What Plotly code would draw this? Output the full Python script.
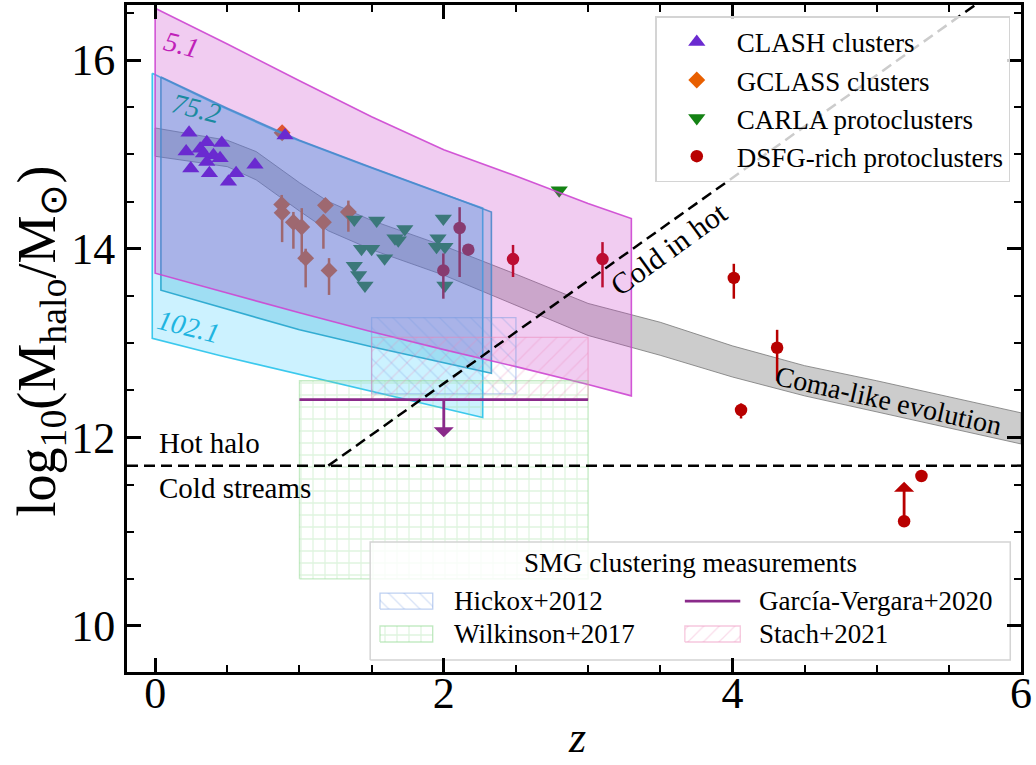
import plotly.graph_objects as go

FONT = "Liberation Serif"

# ---------------- cluster / protocluster samples ----------------
clash_z = [0.235, 0.215, 0.247, 0.312, 0.358, 0.462, 0.404, 0.45, 0.358, 0.376, 0.508, 0.561, 0.692, 0.335, 0.90]
clash_m = [15.23, 15.03, 14.85, 15.06, 15.13, 15.12, 14.99, 14.96, 14.92, 14.80, 14.71, 14.80, 14.89, 15.01, 15.20]

gclass_z = [0.88, 0.877, 0.88, 0.958, 1.016, 1.18, 1.166, 1.339, 1.043, 1.205]
gclass_m = [15.23, 14.47, 14.38, 14.28, 14.23, 14.46, 14.28, 14.39, 13.90, 13.77]
gclass_up = [0.0, 0.10, 0.08, 0.11, 0.20, 0.05, 0.08, 0.12, 0.10, 0.13]
gclass_lo = [0.0, 0.10, 0.31, 0.28, 0.37, 0.05, 0.28, 0.21, 0.31, 0.26]

carla_z = [1.38, 1.535, 1.73, 1.662, 1.685, 1.43, 1.50, 1.59, 1.38, 1.41, 1.454,
           1.997, 1.96, 2.008, 1.95, 2.008, 2.80]
carla_m = [14.31, 14.30, 14.21, 14.11, 14.09, 14.00, 14.00, 13.90, 13.82, 13.72, 13.61,
           14.32, 14.11, 14.02, 14.02, 13.61, 14.62]

dsfg_z = [2.11, 2.17, 1.997, 2.48, 3.10, 4.01, 4.31, 4.06, 5.31, 5.19]
dsfg_m = [14.22, 13.99, 13.77, 13.89, 13.89, 13.69, 12.95, 12.29, 11.59, 11.11]
dsfg_up = [0.22, 0.0, 0.18, 0.15, 0.18, 0.15, 0.19, 0.07, 0.0, 0.0]
dsfg_lo = [0.52, 0.0, 0.30, 0.19, 0.30, 0.22, 0.35, 0.09, 0.0, 0.0]
# lower limit on one DSFG-rich protocluster
dsfg_lowlim_z = 5.19
dsfg_lowlim_m = 11.11
dsfg_lowlim_len = 0.42

# ---------------- progenitor tracks ----------------
band51_z = [0.0, 0.5, 1.0, 1.5, 2.0, 2.5, 3.0, 3.3]
band51_hi = [16.55, 16.17, 15.78, 15.40, 15.05, 14.77, 14.48, 14.32]
band51_lo = [13.74, 13.53, 13.32, 13.12, 12.93, 12.75, 12.56, 12.44]

band752_z = [0.04, 0.5, 1.0, 1.5, 2.0, 2.33]
band752_hi = [15.82, 15.49, 15.15, 14.86, 14.58, 14.39]
band752_lo = [13.56, 13.36, 13.14, 12.96, 12.79, 12.68]

band1021_z = [-0.02, 0.44, 0.94, 1.44, 1.94, 2.27]
band1021_hi = [15.86, 15.52, 15.18, 14.89, 14.61, 14.43]
band1021_lo = [13.05, 12.87, 12.69, 12.51, 12.33, 12.21]

coma_z = [0.0, 0.5, 0.7, 1.0, 1.2, 1.5, 2.0, 2.5, 3.0, 3.5, 4.0, 4.5, 5.0, 5.5, 6.0]
coma_hi = [15.28, 15.15, 15.03, 14.70, 14.50, 14.30, 14.03, 13.73, 13.42, 13.22, 12.97, 12.76, 12.60, 12.43, 12.26]
coma_lo = [14.98, 14.87, 14.73, 14.40, 14.19, 13.99, 13.72, 13.40, 13.08, 12.87, 12.64, 12.44, 12.27, 12.10, 11.93]

# ---------------- SMG clustering measurements ----------------
hickox_z = [1.5, 2.5]
hickox_m = [12.46, 13.27]
wilkinson_z = [1.0, 3.0]
wilkinson_m = [10.50, 12.60]
stach_z = [1.5, 3.0]
stach_m = [12.40, 13.06]
gv_z = [1.0, 3.0]
gv_m = 12.40
gv_arrow_z = 2.0
gv_arrow_len = 0.40

# ---------------- hot / cold accretion boundaries ----------------
hot_cold_m = 11.7
cold_in_hot_z = [1.2, 6.0]
cold_in_hot_m = [11.7, 16.93]

X_RANGE = [-0.195, 6.0]
Y_RANGE = [9.512, 16.584]

# styles
HICKOX = dict(shape="\\", fg="rgba(110,150,225,0.55)", edge="rgba(110,150,225,0.45)", size=11, sol=0.12)
WILK = dict(shape="+", fg="rgba(140,215,140,0.55)", edge="rgba(140,215,140,0.5)", size=12, sol=0.2)
STACH = dict(shape="/", fg="rgba(235,130,180,0.55)", edge="rgba(235,130,180,0.45)", size=11, sol=0.12)
GV_COLOR = "#8a2a8a"
DSFG_COLOR = "#b80000"


def band_outline(z, hi, lo):
    xs = list(z) + list(z)[::-1] + [z[0]]
    ys = list(hi) + list(lo)[::-1] + [hi[0]]
    return xs, ys


def box_outline(z, m):
    return [z[0], z[1], z[1], z[0], z[0]], [m[0], m[0], m[1], m[1], m[0]]


def hatched(x, y, st, xaxis="x", yaxis="y"):
    return go.Scatter(x=x, y=y, mode="lines", fill="toself", fillcolor="rgba(0,0,0,0)",
                      fillpattern=dict(shape=st["shape"], fgcolor=st["fg"], bgcolor="rgba(0,0,0,0)",
                                       size=st["size"], solidity=st["sol"]),
                      line=dict(color=st["edge"], width=1.3),
                      xaxis=xaxis, yaxis=yaxis, showlegend=False, hoverinfo="skip")


fig = go.Figure()

# Coma-like evolution (underneath the markers)
cx, cy = band_outline(coma_z, coma_hi, coma_lo)
fig.add_trace(go.Scatter(x=cx, y=cy, mode="lines", fill="toself",
                         fillcolor="rgba(128,128,128,0.40)",
                         line=dict(color="rgba(120,120,120,0.8)", width=1),
                         showlegend=False, hoverinfo="skip"))

# markers that sit below the progenitor tracks
fig.add_trace(go.Scatter(
    x=gclass_z, y=gclass_m, mode="markers", name="GCLASS clusters",
    marker=dict(symbol="diamond", size=13, color="#e85f00", line=dict(width=0)),
    error_y=dict(type="data", symmetric=False, array=gclass_up, arrayminus=gclass_lo,
                 color="#e85f00", thickness=2.5, width=0),
    legendrank=2))
fig.add_trace(go.Scatter(
    x=carla_z, y=carla_m, mode="markers", name="CARLA protoclusters",
    marker=dict(symbol="triangle-down", size=15, color="#148214", line=dict(width=0)),
    legendrank=3))
fig.add_trace(go.Scatter(
    x=dsfg_z, y=dsfg_m, mode="markers", name="DSFG-rich protoclusters",
    marker=dict(symbol="circle", size=12.5, color=DSFG_COLOR, line=dict(width=0)),
    error_y=dict(type="data", symmetric=False, array=dsfg_up, arrayminus=dsfg_lo,
                 color=DSFG_COLOR, thickness=2.5, width=0),
    legendrank=4))

# progenitor tracks
bx, by = band_outline(band1021_z, band1021_hi, band1021_lo)
fig.add_trace(go.Scatter(x=bx, y=by, mode="lines", fill="toself",
                         fillcolor="rgba(0,191,255,0.20)",
                         line=dict(color="rgba(40,195,235,0.9)", width=1.6),
                         showlegend=False, hoverinfo="skip"))
bx, by = band_outline(band752_z, band752_hi, band752_lo)
fig.add_trace(go.Scatter(x=bx, y=by, mode="lines", fill="toself",
                         fillcolor="rgba(0,150,200,0.22)",
                         line=dict(color="rgba(35,165,205,0.9)", width=1.6),
                         showlegend=False, hoverinfo="skip"))
bx, by = band_outline(band51_z, band51_hi, band51_lo)
fig.add_trace(go.Scatter(x=bx, y=by, mode="lines", fill="toself",
                         fillcolor="rgba(200,50,200,0.25)",
                         line=dict(color="rgba(205,70,210,0.9)", width=1.6),
                         showlegend=False, hoverinfo="skip"))

# CLASH on top
fig.add_trace(go.Scatter(
    x=clash_z, y=clash_m, mode="markers", name="CLASH clusters",
    marker=dict(symbol="triangle-up", size=15, color="#6a2ad0", line=dict(width=0)),
    legendrank=1))

# SMG clustering measurements
fig.add_trace(hatched(*box_outline(hickox_z, hickox_m), HICKOX))
fig.add_trace(hatched(*box_outline(wilkinson_z, wilkinson_m), WILK))
fig.add_trace(hatched(*box_outline(stach_z, stach_m), STACH))
fig.add_trace(go.Scatter(x=gv_z, y=[gv_m, gv_m], mode="lines",
                         line=dict(color=GV_COLOR, width=2.8),
                         showlegend=False, hoverinfo="skip"))

# hot halo / cold stream boundaries
fig.add_trace(go.Scatter(x=X_RANGE, y=[hot_cold_m, hot_cold_m], mode="lines",
                         line=dict(color="black", width=2.5, dash="11px,6px"),
                         showlegend=False, hoverinfo="skip"))
fig.add_trace(go.Scatter(x=cold_in_hot_z, y=cold_in_hot_m, mode="lines",
                         line=dict(color="black", width=2.5, dash="11px,6px"),
                         showlegend=False, hoverinfo="skip"))

# ---- key for the SMG measurements, drawn on an overlay of the plot area (0..1 units) ----
K = dict(x0=0.272, x1=0.988, y0=0.018, y1=0.195, title_y=0.163,
         row_y=[0.1064, 0.057], sw_x=[(0.283, 0.342), (0.624, 0.686)],
         txt_x=[0.3635, 0.7047], sw_h=0.012)
fig.add_trace(go.Scatter(x=[K["x0"], K["x1"], K["x1"], K["x0"], K["x0"]],
                         y=[K["y0"], K["y0"], K["y1"], K["y1"], K["y0"]],
                         mode="lines", fill="toself", fillcolor="rgba(255,255,255,0.8)",
                         line=dict(color="rgb(212,212,212)", width=1.5),
                         xaxis="x2", yaxis="y2", showlegend=False, hoverinfo="skip"))
key_entries = [("Hickox+2012", HICKOX, 0, 0), ("García-Vergara+2020", None, 1, 0),
               ("Wilkinson+2017", WILK, 0, 1), ("Stach+2021", STACH, 1, 1)]
for name, st, col, row in key_entries:
    xa, xb = K["sw_x"][col]
    yc = K["row_y"][row]
    if st is None:
        fig.add_trace(go.Scatter(x=[xa, xb], y=[yc, yc], mode="lines",
                                 line=dict(color=GV_COLOR, width=2.8),
                                 xaxis="x2", yaxis="y2", showlegend=False, hoverinfo="skip"))
    else:
        fig.add_trace(hatched([xa, xb, xb, xa, xa],
                              [yc - K["sw_h"], yc - K["sw_h"], yc + K["sw_h"], yc + K["sw_h"], yc - K["sw_h"]],
                              st, xaxis="x2", yaxis="y2"))
    fig.add_annotation(x=K["txt_x"][col], y=yc, xref="paper", yref="paper", text=name,
                       showarrow=False, xanchor="left", yanchor="middle",
                       font=dict(family=FONT, size=27, color="black"))
fig.add_annotation(x=(K["x0"] + K["x1"]) / 2, y=K["title_y"], xref="paper", yref="paper",
                   text="SMG clustering measurements", showarrow=False,
                   xanchor="center", yanchor="middle",
                   font=dict(family=FONT, size=27, color="black"))

# limit arrows
fig.add_annotation(x=gv_arrow_z, y=gv_m - gv_arrow_len, ax=gv_arrow_z, ay=gv_m,
                   xref="x", yref="y", axref="x", ayref="y", text="",
                   showarrow=True, arrowhead=1, arrowsize=1.2, arrowwidth=2.8,
                   arrowcolor=GV_COLOR, standoff=0, startstandoff=0)
fig.add_annotation(x=dsfg_lowlim_z, y=dsfg_lowlim_m + dsfg_lowlim_len,
                   ax=dsfg_lowlim_z, ay=dsfg_lowlim_m,
                   xref="x", yref="y", axref="x", ayref="y", text="",
                   showarrow=True, arrowhead=1, arrowsize=1.2, arrowwidth=2.8,
                   arrowcolor=DSFG_COLOR, standoff=0, startstandoff=0)


# text labels
def label(text, x, y, size, color="black", angle=0, italic=False, xanchor="center"):
    t = f"<i>{text}</i>" if italic else text
    fig.add_annotation(x=x, y=y, xref="x", yref="y", text=t, showarrow=False,
                       textangle=angle, xanchor=xanchor,
                       font=dict(family=FONT, size=size, color=color))


label("5.1", 0.18, 16.16, 28, "#c020b8", 14, italic=True)
label("75.2", 0.29, 15.49, 28, "#1a8aa0", 14, italic=True)
label("102.1", 0.23, 13.17, 28, "#20b4e0", 14, italic=True)
label("Hot halo", 0.01, 11.94, 29, xanchor="left")
label("Cold streams", 0.01, 11.46, 29, xanchor="left")
label("Cold in hot", 3.56, 14.0, 30, angle=-36)
label("Coma-like evolution", 5.08, 12.39, 28, angle=12.7)

# axis titles
fig.add_annotation(x=0.503, y=-0.0975, xref="paper", yref="paper", text="<i>z</i>",
                   showarrow=False, xanchor="center", yanchor="middle",
                   font=dict(family=FONT, size=44, color="black"))
fig.add_annotation(x=-0.097, y=0.496, xref="paper", yref="paper",
                   text="log<sub>10</sub>(M<sub>halo</sub>/M<sub>⊙</sub>)",
                   showarrow=False, textangle=-90, xanchor="center", yanchor="middle",
                   font=dict(family=FONT, size=54, color="black"))

axis_common = dict(
    ticks="inside", ticklen=14, tickwidth=2.5, tickcolor="black",
    showline=True, linewidth=3, linecolor="black", mirror="allticks",
    showgrid=False, zeroline=False, automargin=False,
    tickfont=dict(family=FONT, size=44, color="black"),
)
fig.update_layout(
    xaxis=dict(range=X_RANGE, tick0=0, dtick=2,
               minor=dict(ticks="inside", ticklen=7, tickwidth=2, tickcolor="black", dtick=0.5, tick0=0),
               ticklabelstandoff=-20,
               **axis_common),
    yaxis=dict(range=Y_RANGE, tick0=0, dtick=2,
               minor=dict(ticks="inside", ticklen=7, tickwidth=2, tickcolor="black", dtick=0.5, tick0=0),
               ticklabelstandoff=0,
               **axis_common),
    xaxis2=dict(overlaying="x", range=[0, 1], visible=False, fixedrange=True),
    yaxis2=dict(overlaying="y", range=[0, 1], visible=False, fixedrange=True),
    width=1036, height=765,
    margin=dict(l=127, r=15, t=5, b=93, autoexpand=False),
    plot_bgcolor="white", paper_bgcolor="white",
    font=dict(family=FONT, size=27, color="black"),
    legend=dict(x=0.988, xanchor="right", y=0.983, yanchor="top",
                bgcolor="rgba(255,255,255,0.8)", bordercolor="rgb(212,212,212)", borderwidth=1.5,
                font=dict(family=FONT, size=27), itemwidth=70, traceorder="normal"),
    showlegend=True,
)

fig.write_html("out.html")
